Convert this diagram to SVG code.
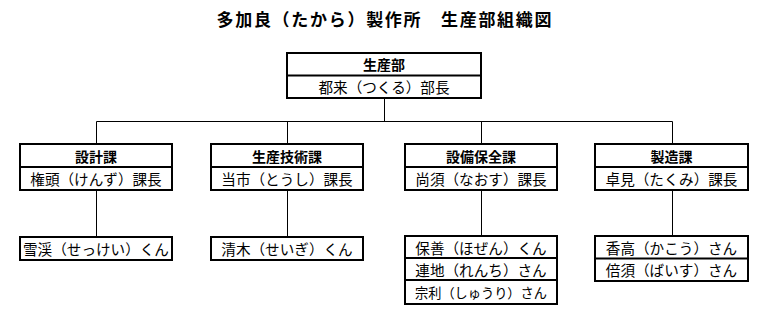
<svg xmlns="http://www.w3.org/2000/svg" width="763" height="316" viewBox="0 0 763 316">
<style>
.box{fill:#fff;stroke:#000;stroke-width:2}
.div{stroke:#000;stroke-width:2}
.con{stroke:#000;stroke-width:1;fill:none}
text{font-family:"Noto Sans CJK JP","Noto Sans",sans-serif;text-anchor:middle;dominant-baseline:central;fill:#000}
.h{font-size:14px;font-weight:bold}
.n{font-size:14.6px}
.s{font-size:13.2px}
.t{font-size:17px;font-weight:bold}
</style>
<rect width="763" height="316" fill="#fff"/>
<text class="t" x="384" y="18" textLength="335" lengthAdjust="spacing">多加良（たから）製作所　生産部組織図</text>
<g id="connectors">
<line class="con" x1="384.5" y1="98" x2="384.5" y2="121.5"/>
<line class="con" x1="96.5" y1="121.5" x2="672.5" y2="121.5"/>
<line class="con" x1="96.5" y1="121.5" x2="96.5" y2="144"/>
<line class="con" x1="287.5" y1="121.5" x2="287.5" y2="144"/>
<line class="con" x1="481.5" y1="121.5" x2="481.5" y2="144"/>
<line class="con" x1="672.5" y1="121.5" x2="672.5" y2="144"/>
<line class="con" x1="96.5" y1="190" x2="96.5" y2="237"/>
<line class="con" x1="287.5" y1="190" x2="287.5" y2="237"/>
<line class="con" x1="481.5" y1="190" x2="481.5" y2="236"/>
<line class="con" x1="672.5" y1="190" x2="672.5" y2="236"/>
</g>
<g id="seisanbu">
<rect class="box" x="287" y="53" width="194" height="45"/>
<line class="div" x1="287" y1="75.5" x2="481" y2="75.5"/>
<text class="h" x="384" y="64">生産部</text>
<text class="n" x="384" y="86.5">都来（つくる）部長</text>
</g>
<g id="sekkei">
<rect class="box" x="20" y="144" width="152" height="46"/>
<line class="div" x1="20" y1="167" x2="172" y2="167"/>
<text class="h" x="96" y="155.5">設計課</text>
<text class="n" x="96" y="178.5">権頭（けんず）課長</text>
</g>
<g id="seisangijutsu">
<rect class="box" x="211" y="144" width="152" height="46"/>
<line class="div" x1="211" y1="167" x2="363" y2="167"/>
<text class="h" x="287" y="155.5">生産技術課</text>
<text class="n" x="287" y="178.5">当市（とうし）課長</text>
</g>
<g id="setsubihozen">
<rect class="box" x="405" y="144" width="152" height="46"/>
<line class="div" x1="405" y1="167" x2="557" y2="167"/>
<text class="h" x="481" y="155.5">設備保全課</text>
<text class="n" x="481" y="178.5">尚須（なおす）課長</text>
</g>
<g id="seizou">
<rect class="box" x="595" y="144" width="153" height="46"/>
<line class="div" x1="595" y1="167" x2="748" y2="167"/>
<text class="h" x="671.5" y="155.5">製造課</text>
<text class="n" x="671.5" y="178.5">卓見（たくみ）課長</text>
</g>
<g id="sekkei-staff">
<rect class="box" x="20" y="237" width="152" height="23"/>
<text class="n" x="96" y="248.5">雪渓（せっけい）くん</text>
</g>
<g id="seisangijutsu-staff">
<rect class="box" x="211" y="237" width="152" height="23"/>
<text class="n" x="287" y="248.5">清木（せいぎ）くん</text>
</g>
<g id="setsubihozen-staff">
<rect class="box" x="405" y="236" width="152" height="68"/>
<line class="div" x1="405" y1="258" x2="557" y2="258"/>
<line class="div" x1="405" y1="280" x2="557" y2="280"/>
<text class="n" x="481" y="247">保善（ほぜん）くん</text>
<text class="n" x="481" y="269">連地（れんち）さん</text>
<text class="s" x="481" y="292">宗利（しゅうり）さん</text>
</g>
<g id="seizou-staff">
<rect class="box" x="595" y="236" width="153" height="45"/>
<line class="div" x1="595" y1="258.5" x2="748" y2="258.5"/>
<text class="n" x="671.5" y="247">香高（かこう）さん</text>
<text class="n" x="671.5" y="269.5">倍須（ばいす）さん</text>
</g>
</svg>
